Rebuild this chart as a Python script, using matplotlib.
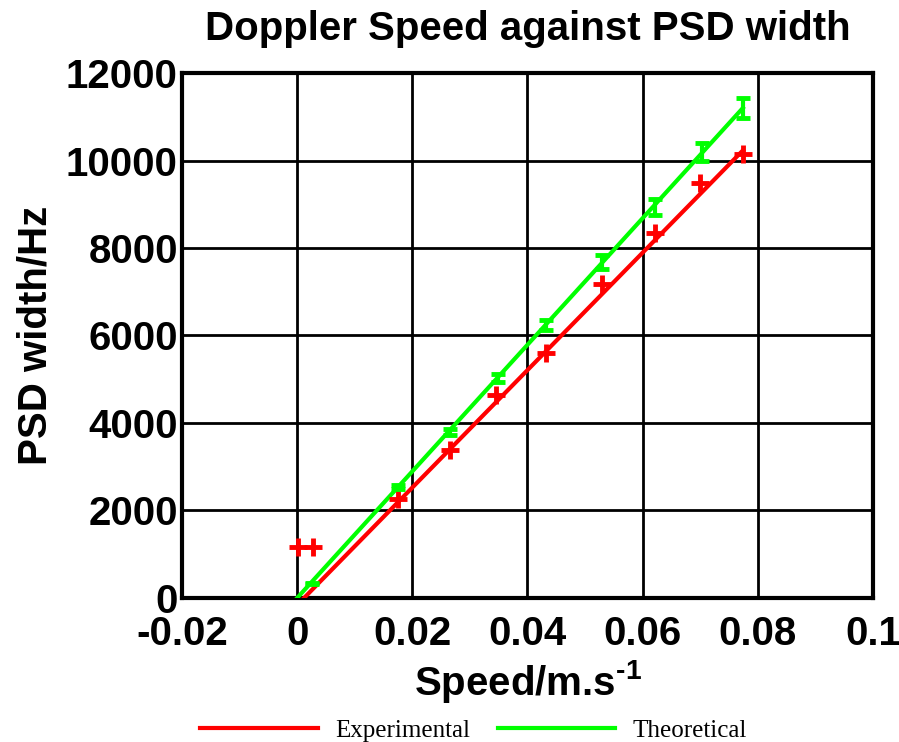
import matplotlib
matplotlib.use('Agg')
import matplotlib.pyplot as plt

# Experimental PSD widths (Hz) against Doppler speed (m/s)
exp_speed = [0.0002, 0.0027, 0.0175, 0.0265, 0.0345, 0.0433, 0.0530, 0.0621, 0.0699, 0.0774]
exp_width = [1170, 1170, 2263, 3383, 4640, 5600, 7177, 8343, 9486, 10150]

# Theoretical widths with their error bars
theo_speed = [0.0026, 0.0175, 0.0265, 0.0348, 0.0433, 0.0530, 0.0621, 0.0703, 0.0774]
theo_width = [330, 2537, 3790, 5029, 6240, 7680, 8937, 10194, 11200]
theo_err = [15, 50, 75, 100, 125, 150, 180, 200, 225]

# straight-line fits
exp_fit_x = [0.0012, 0.0774]
exp_fit_y = [0, 10230]
theo_fit_x = [0.0, 0.0774]
theo_fit_y = [0, 11200]

x_ticks = [-0.02, 0, 0.02, 0.04, 0.06, 0.08, 0.1]
x_labels = ['-0.02', '0', '0.02', '0.04', '0.06', '0.08', '0.1']
y_ticks = [0, 2000, 4000, 6000, 8000, 10000, 12000]

plt.rcParams['font.family'] = 'Liberation Sans'
plt.rcParams['mathtext.fontset'] = 'custom'
plt.rcParams['mathtext.rm'] = 'Liberation Sans:bold'
plt.rcParams['mathtext.it'] = 'Liberation Sans:bold'
plt.rcParams['mathtext.bf'] = 'Liberation Sans:bold'

fig = plt.figure(figsize=(8.99, 7.42), dpi=100)
ax = fig.add_axes([0.2024, 0.1941, 0.9711 - 0.2024, 0.9016 - 0.1941])

red = '#ff0000'
green = '#00ff00'

ax.plot(exp_fit_x, exp_fit_y, color=red, lw=3, label='Experimental', zorder=3)
ax.plot(theo_fit_x, theo_fit_y, color=green, lw=3, label='Theoretical', zorder=4)
ax.plot(exp_speed, exp_width, linestyle='none', marker='+', ms=13, mew=3.5, color=red, zorder=5)
ax.errorbar(theo_speed, theo_width, yerr=theo_err, fmt='none', ecolor=green,
            elinewidth=3, capsize=5, capthick=3.5, zorder=6)

ax.set_xlim(-0.02, 0.1)
ax.set_ylim(0, 12000)
ax.set_xticks(x_ticks)
ax.set_xticklabels(x_labels)
ax.set_yticks(y_ticks)
ax.grid(True, color='black', lw=2, zorder=1)
ax.set_axisbelow(True)
for s in ax.spines.values():
    s.set_linewidth(3)
ax.tick_params(length=0, labelsize=29, pad=3)
ax.tick_params(axis='x', pad=12)
for lab in ax.get_xticklabels() + ax.get_yticklabels():
    lab.set_fontweight('bold')

ax.set_title('Doppler Speed against PSD width', fontsize=29, fontweight='bold', pad=24)
ax.set_xlabel(r'Speed/m.s$^{\text{-1}}$', fontsize=29, fontweight='bold', labelpad=4)
ax.set_ylabel('PSD width/Hz', fontsize=29, fontweight='bold', labelpad=8)

handles, labels = ax.get_legend_handles_labels()
fig.legend(handles, labels, loc='lower center', ncol=2, frameon=False,
           bbox_to_anchor=(0.527, -0.03), prop={'family': 'Liberation Serif', 'size': 18},
           handlelength=4.7, handletextpad=0.7, columnspacing=1.1)

fig.savefig('out.png', dpi=100)
